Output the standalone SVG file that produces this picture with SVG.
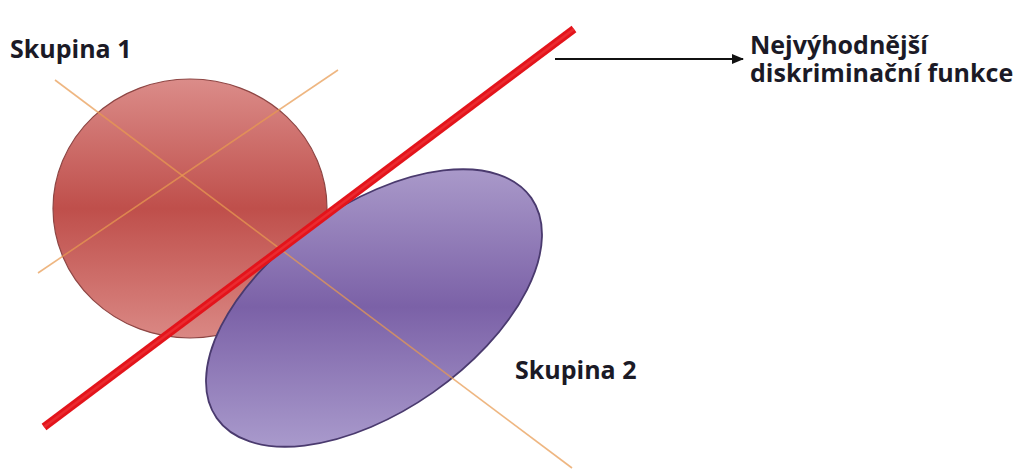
<svg xmlns="http://www.w3.org/2000/svg" width="1022" height="470" viewBox="0 0 1022 470">
  <defs>
    <linearGradient id="gRed" x1="0" y1="0" x2="0" y2="1">
      <stop offset="0" stop-color="#DB8C89"/>
      <stop offset="0.5" stop-color="#BF4F4B"/>
      <stop offset="1" stop-color="#DA8884"/>
    </linearGradient>
    <linearGradient id="gPurple" gradientUnits="userSpaceOnUse" x1="0" y1="167" x2="0" y2="447" gradientTransform="rotate(35 374 308)">
      <stop offset="0" stop-color="#AA9ACA"/>
      <stop offset="0.5" stop-color="#7B61A7"/>
      <stop offset="1" stop-color="#A99ACC"/>
    </linearGradient>
    <marker id="arrow" viewBox="0 0 12 10" refX="11" refY="5" markerWidth="12" markerHeight="10" markerUnits="userSpaceOnUse" orient="auto">
      <path d="M0,0 L12,5 L0,10 z" fill="#111"/>
    </marker>
    <style>
      .lbl { font-family: "Open Sans", "Liberation Sans", sans-serif; font-weight: bold; font-size: 25px; fill: #1b1a26; }
      .axis { stroke: #E89A50; stroke-opacity: 0.72; stroke-width: 1.6; fill: none; }
    </style>
  </defs>
  <rect width="1022" height="470" fill="#ffffff"/>

  <g id="skupina1">
    <ellipse cx="190" cy="208.5" rx="137" ry="129.5" fill="url(#gRed)" stroke="#8E4644" stroke-width="1.2"/>
  </g>

  <g id="skupina2">
    <ellipse cx="374" cy="308" rx="192" ry="103" transform="rotate(-35 374 308)" fill="url(#gPurple)" stroke="#4A3A6E" stroke-width="1.8"/>
  </g>

  <g id="axes">
    <line class="axis" x1="55" y1="80" x2="572" y2="468"/>
    <line class="axis" x1="38" y1="273" x2="338" y2="70"/>
  </g>

  <g id="diskriminacni-funkce">
    <line x1="44" y1="427" x2="574" y2="29" stroke="#E3141B" stroke-width="8"/>
    <line x1="44" y1="427" x2="574" y2="29" stroke="#F0393E" stroke-width="2.5" stroke-opacity="0.6"/>
  </g>

  <g id="connectors">
    <line x1="555" y1="59" x2="743" y2="59" stroke="#111" stroke-width="2.2" marker-end="url(#arrow)"/>
  </g>

  <g id="label-skupina1">
    <text class="lbl" x="10" y="58">Skupina 1</text>
  </g>
  <g id="label-skupina2">
    <text class="lbl" x="515" y="379">Skupina 2</text>
  </g>
  <g id="label-funkce">
    <text class="lbl" x="750" y="54">Nejvýhodnější<tspan x="750" y="82">diskriminační funkce</tspan></text>
  </g>
</svg>
